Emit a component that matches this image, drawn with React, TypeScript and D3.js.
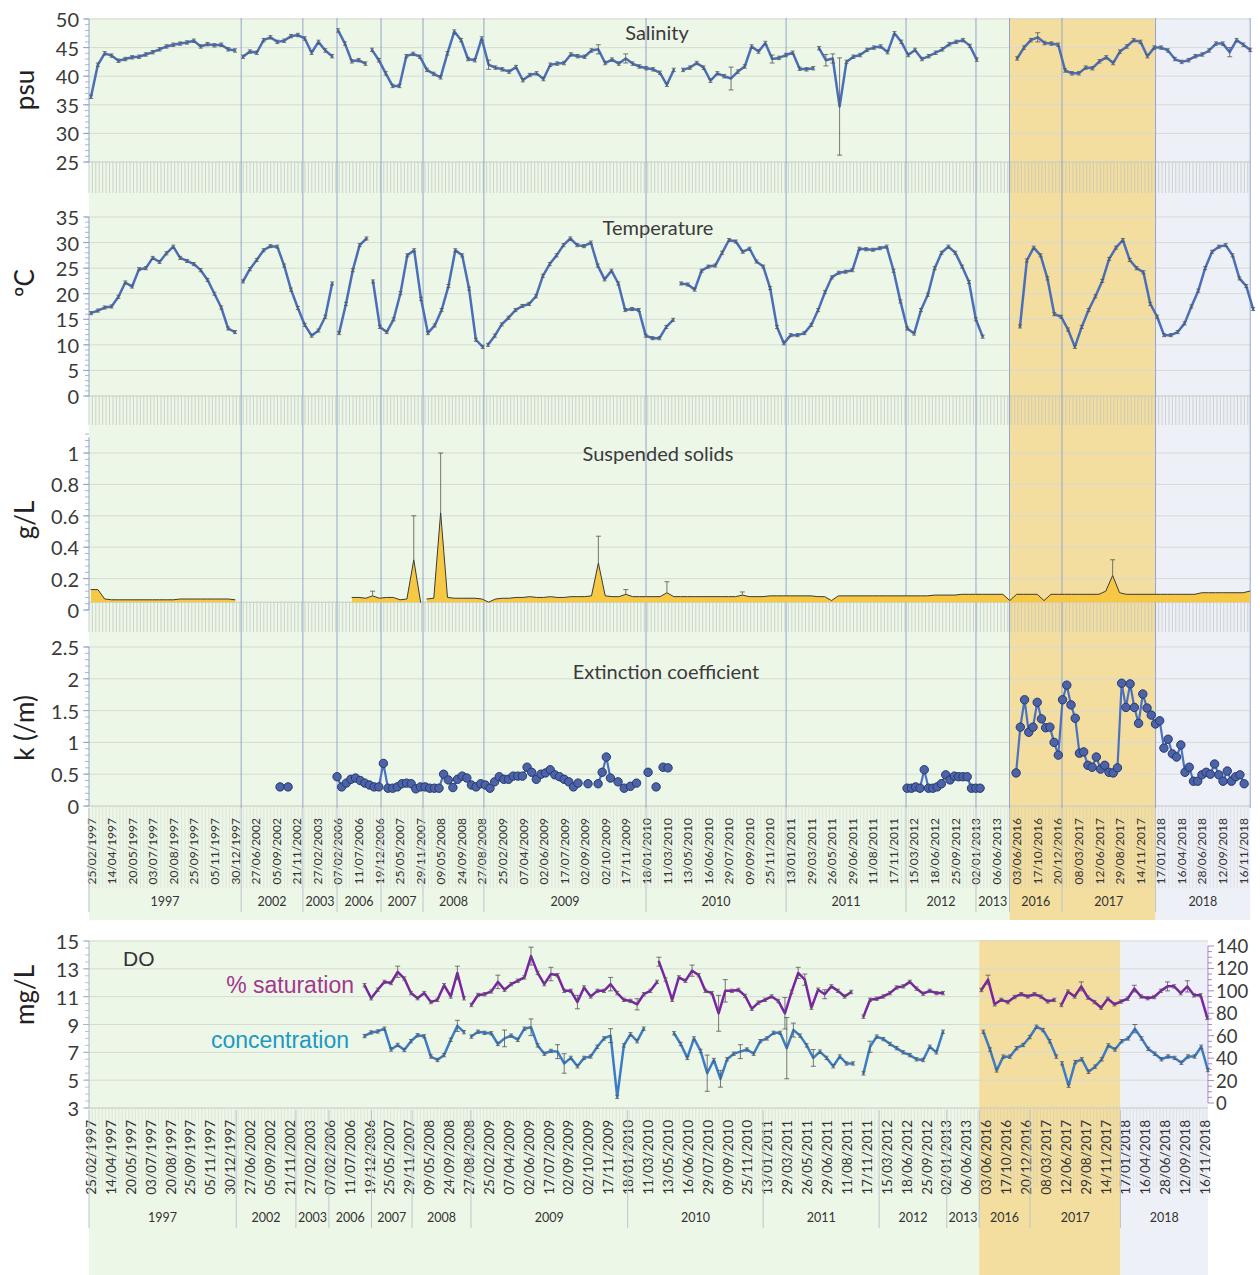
import { useEffect, useRef } from 'react';
import * as d3 from 'd3';

type Segment = { start: number; step: number; values: number[] };
type ErrorBar = [number, number, number]; // segment index, point index, error size
type Pt = { p: number; v: number };

// ---------- categories (x positions are in "date label" units) ----------
const dateLabels = [
  '25/02/1997', '14/04/1997', '20/05/1997', '03/07/1997', '20/08/1997', '25/09/1997', '05/11/1997', '30/12/1997',
  '27/06/2002', '05/09/2002', '21/11/2002', '27/02/2003', '07/02/2006', '11/07/2006', '19/12/2006', '25/05/2007',
  '29/11/2007', '09/05/2008', '24/09/2008', '27/08/2008', '25/02/2009', '07/04/2009', '02/06/2009', '17/07/2009',
  '02/09/2009', '02/10/2009', '17/11/2009', '18/01/2010', '11/03/2010', '13/05/2010', '16/06/2010', '29/07/2010',
  '09/09/2010', '25/11/2010', '13/01/2011', '29/03/2011', '26/05/2011', '29/06/2011', '11/08/2011', '17/11/2011',
  '15/03/2012', '18/06/2012', '25/09/2012', '02/01/2013', '06/06/2013', '03/06/2016', '17/10/2016', '20/12/2016',
  '08/03/2017', '12/06/2017', '29/08/2017', '14/11/2017', '17/01/2018', '16/04/2018', '28/06/2018', '12/09/2018',
  '16/11/2018',
];
const years = ['1997', '2002', '2003', '2006', '2007', '2008', '2009', '2010', '2011', '2012', '2013', '2016', '2017', '2018'];
// where each year group begins
const yearBreaks = [-0.1, 7.3, 10.3, 11.96, 14.1, 16.14, 19.1, 26.98, 33.79, 39.62, 43.02, 44.65, 47.2, 51.75];

const T = 1 / 3;

// ---------- salinity (psu) ----------
const salinity: Segment[] = [
  { start: 0, step: T, values: [36.4, 42, 44, 43.6, 42.7, 43, 43.3, 43.4, 43.8, 44.2, 44.7, 45.2, 45.5, 45.7, 45.9, 46.2, 45.2, 45.6, 45.4, 45.5, 44.7, 44.5] },
  { start: 7.39, step: T, values: [43.4, 44.3, 44.1, 46.3, 46.8, 46, 46.2, 47, 47.2, 46.6, 44.1, 46, 44.5, 43.5] },
  { start: 12.01, step: T, values: [48, 45.7, 42.6, 42.8, 42.2] },
  { start: 13.66, step: T, values: [
    44.6, 42.8, 40.5, 38.3, 38.3, 43.5, 43.9, 43.4, 41.1, 40.4,
    39.8, 44, 47.8, 46.3, 43, 42.8, 46.6, 42, 41.5, 41.2,
    40.8, 41.6, 39.3, 40.2, 40.5, 39.5, 42, 42.2, 42.3, 43.8,
    43.5, 43.4, 44.5, 44.7, 42.3, 42.9, 42.2, 43.1, 42.2, 41.7,
    41.4, 41.2, 40.6, 38.5, 41.1] },
  { start: 28.78, step: T, values: [41.1, 41.5, 42.3, 41.5, 39.2, 40.5, 40, 39.6, 40.8, 41.7, 45.2, 44.3, 45.8, 43, 43.2, 43.7, 44.1, 41.3, 41.2, 41.4] },
  { start: 35.39, step: T, values: [44.9, 42.8, 43.1, 34.7, 42.5, 43.4, 43.7, 44.6, 45, 45.2, 44.2, 47.5, 46, 43.7, 44.6, 43, 43.5, 44.1, 44.7, 45.6, 46, 46.3, 45.3, 42.9] },
  { start: 45.02, step: T, values: [
    43.1, 45, 46.3, 46.8, 45.8, 45.7, 45.5, 41, 40.5, 40.5,
    41.5, 41.4, 42.6, 43.3, 42.3, 44.3, 45.2, 46.3, 46, 43.5,
    45, 45, 44.5, 43, 42.5, 42.8, 43.5, 43.8, 44.5, 45.7,
    45.7, 44.2, 46.3, 45.5, 44.6] },
];
const salinityErrors: ErrorBar[] = [[4, 7, 2], [3, 17, 0.8], [3, 33, 0.8], [3, 37, 0.8], [5, 3, 8.5], [5, 2, 0.8], [6, 3, 0.8], [6, 31, 0.8], [4, 13, 0.7], [5, 1, 1]];

// ---------- temperature (ºC) ----------
const temperature: Segment[] = [
  { start: 0, step: T, values: [16.2, 16.7, 17.3, 17.5, 19.4, 22.2, 21.4, 24.8, 25, 27, 26.2, 27.9, 29.2, 27, 26.4, 25.8, 24.6, 22.7, 20, 17.3, 13.2, 12.5] },
  { start: 7.39, step: T, values: [22.4, 24.8, 26.6, 28.5, 29.3, 29.2, 25.5, 20.8, 17.2, 13.9, 11.8, 12.8, 15.5, 22] },
  { start: 12.06, step: T, values: [12.3, 18, 24.6, 29.5, 30.8] },
  { start: 13.71, step: T, values: [22.4, 13.5, 12.5, 15, 20.1, 27.5, 28.5, 19, 12.3, 13.8, 16.8, 21.5, 28.5, 27.5, 21, 11, 9.6] },
  { start: 19.3, step: T, values: [
    10, 11.8, 14, 15.3, 16.8, 17.6, 18, 19.5, 23.5, 25.8,
    27.5, 29.5, 30.8, 29.5, 29.3, 30, 25.5, 22.8, 24.5, 22,
    16.8, 17, 16.8, 11.8, 11.3, 11.3, 13.5, 14.9] },
  { start: 28.68, step: T, values: [
    22, 21.8, 20.8, 24.5, 25.3, 25.5, 28, 30.5, 30.2, 28.2,
    28.8, 26.3, 25.3, 21.1, 13.5, 10.3, 11.9, 11.9, 12.3, 13.9,
    16.8, 20.3, 23.2, 24.1, 24.3, 24.6, 28.8, 28.7, 28.6, 28.9,
    29.2, 24.5, 18.5, 13.2, 12.2, 16.8, 19.8, 25, 28, 29.2,
    28, 25.3, 22.3, 15, 11.6] },
  { start: 45.16, step: T, values: [
    13.6, 26.5, 29, 27.5, 23, 16, 15.5, 13, 9.6, 13.5,
    16.8, 19.5, 22.5, 26.8, 29, 30.5, 26.6, 25, 24.2, 18,
    15.5, 11.9, 11.9, 12.5, 14.2, 17.5, 20.6, 25, 28.2, 29.2,
    29.5, 27.5, 23, 21.5, 17] },
];

// ---------- suspended solids (g/L) ----------
const solids: Segment[] = [
  { start: 0, step: T, values: [0.13, 0.13, 0.07, 0.065, 0.065, 0.065, 0.065, 0.065, 0.065, 0.065, 0.065, 0.065, 0.065, 0.07, 0.07, 0.07, 0.07, 0.07, 0.07, 0.07, 0.07, 0.065] },
  { start: 12.69, step: T, values: [0.08, 0.08, 0.075, 0.09, 0.075, 0.08, 0.08, 0.065, 0.07, 0.32, 0.05] },
  { start: 16.33, step: T, values: [
    0.07, 0.075, 0.62, 0.08, 0.075, 0.075, 0.075, 0.075, 0.07, 0.05,
    0.07, 0.075, 0.075, 0.08, 0.08, 0.085, 0.08, 0.08, 0.085, 0.08,
    0.08, 0.085, 0.085, 0.085, 0.09, 0.3, 0.09, 0.085, 0.085, 0.1,
    0.085, 0.085, 0.085, 0.085, 0.085, 0.11, 0.085, 0.085, 0.085, 0.085,
    0.085, 0.085, 0.085, 0.085, 0.085, 0.085, 0.095, 0.085, 0.085, 0.085,
    0.09, 0.09, 0.09, 0.09, 0.09, 0.09, 0.09, 0.085, 0.085, 0.06,
    0.09, 0.09, 0.09, 0.09, 0.09, 0.09, 0.09, 0.09, 0.09, 0.09,
    0.09, 0.09, 0.09, 0.09, 0.095, 0.095, 0.095, 0.095, 0.1, 0.1,
    0.1, 0.1, 0.1, 0.1, 0.1, 0.06, 0.1, 0.1, 0.1, 0.1,
    0.06, 0.1, 0.1, 0.1, 0.1, 0.1, 0.1, 0.1, 0.1, 0.12,
    0.22, 0.11, 0.1, 0.1, 0.1, 0.1, 0.1, 0.1, 0.1, 0.1,
    0.1, 0.1, 0.1, 0.11, 0.11, 0.11, 0.11, 0.11, 0.11, 0.11, 0.12] },
];
const solidsErrors: ErrorBar[] = [[1, 3, 0.03], [1, 9, 0.28], [2, 2, 0.38], [2, 25, 0.17], [2, 29, 0.03], [2, 35, 0.07], [2, 46, 0.02], [2, 100, 0.1]];
const solidsAxisCross = 0.05;

// ---------- extinction coefficient (/m) ----------
const extinction: Segment[] = [
  { start: 9.19, step: 0.39, values: [0.3, 0.3] },
  { start: 11.96, step: 0.2253, values: [
    0.46, 0.3, 0.36, 0.42, 0.44, 0.4, 0.36, 0.33, 0.3, 0.3,
    0.67, 0.28, 0.28, 0.3, 0.35, 0.36, 0.35, 0.27, 0.3, 0.3,
    0.28, 0.28, 0.28, 0.5, 0.41, 0.29, 0.42, 0.47, 0.44, 0.33,
    0.3, 0.35, 0.33, 0.28, 0.38, 0.46, 0.42, 0.42, 0.47, 0.47,
    0.47, 0.61, 0.53, 0.42, 0.5, 0.52, 0.57, 0.49, 0.46, 0.42,
    0.38, 0.3, 0.36] },
  { start: 24.16, step: 0.2, values: [0.35] },
  { start: 24.65, step: 0.2, values: [0.35, 0.53, 0.77, 0.44] },
  { start: 25.62, step: 0.3, values: [0.38, 0.28, 0.31, 0.36] },
  { start: 27.08, step: 0.2, values: [0.53] },
  { start: 27.47, step: 0.2, values: [0.3] },
  { start: 27.81, step: 0.24, values: [0.61, 0.6] },
  { start: 39.67, step: 0.2088, values: [0.28, 0.28, 0.3, 0.28, 0.57, 0.28, 0.28, 0.3, 0.35, 0.49, 0.41, 0.47, 0.46, 0.46, 0.46, 0.28, 0.28, 0.28] },
  { start: 44.97, step: 0.2053, values: [
    0.52, 1.24, 1.67, 1.16, 1.24, 1.63, 1.37, 1.23, 1.24, 1.0,
    0.8, 1.67, 1.9, 1.59, 1.38, 0.83, 0.85, 0.64, 0.61, 0.77,
    0.58, 0.64, 0.53, 0.52, 0.6, 1.93, 1.55, 1.92, 1.55, 1.3,
    1.76, 1.54, 1.43, 1.29, 1.34, 0.91, 1.05, 0.82, 0.77, 0.96,
    0.53, 0.61, 0.39, 0.39, 0.49, 0.53, 0.5, 0.66, 0.49, 0.39,
    0.55, 0.39, 0.46, 0.49, 0.35] },
];

// ---------- dissolved oxygen ----------
const doSaturation: Segment[] = [
  { start: 13.75, step: T, values: [105, 93.4, 101, 108, 107, 117, 111, 98, 93.5, 98, 90, 92, 105, 95, 116, 93.4] },
  { start: 19.12, step: T, values: [
    87.4, 96.3, 97, 99.5, 108, 101, 106, 109, 112, 131,
    116, 106, 115, 114, 100, 100, 90, 103, 95, 100,
    100, 106, 98, 92, 91, 88, 97, 100, 108] },
  { start: 28.55, step: T, values: [
    126, 110, 92, 112, 109, 118, 114, 100, 98, 80,
    100, 100, 100.8, 95.5, 84, 89.5, 92, 95, 91, 80,
    99, 116, 110, 85, 101, 97, 104, 100, 95, 99] },
  { start: 38.83, step: T, values: [77, 92, 93, 95, 98, 103, 104, 108, 102, 97.5, 100, 98, 98] },
  { start: 44.76, step: T, values: [100.8, 110, 88, 92, 90, 94.5, 97, 95, 97, 94.8, 90.6, 91.9] },
  { start: 48.78, step: T, values: [
    87.4, 99.3, 95, 104, 94, 90, 85, 93, 88, 90.5,
    93, 102, 95, 93.5, 94.5, 100, 104, 104, 98, 104,
    96, 96, 76] },
];
const doConcentration: Segment[] = [
  { start: 13.75, step: T, values: [8.17, 8.43, 8.5, 8.7, 7.2, 7.53, 7.17, 7.8, 8.23, 8.15, 6.7, 6.45, 6.8, 7.9, 8.9, 8.45] },
  { start: 19.12, step: T, values: [
    8.13, 8.48, 8.4, 8.37, 7.6, 8.0, 8.2, 7.9, 8.7, 8.8,
    7.5, 6.9, 7.1, 7.05, 6.2, 6.6, 6.0, 6.6, 6.7, 7.4,
    8.0, 8.2, 3.8, 7.5, 8.3, 7.8, 8.7] },
  { start: 29.31, step: T, values: [
    8.37, 7.6, 6.6, 8.0, 7.1, 5.5, 6.45, 5.1, 6.5, 6.9,
    7.05, 7.2, 6.9, 7.8, 8.0, 8.4, 8.4, 7.3, 8.6, 8.2,
    7.5, 6.6, 7.05, 6.6, 6.0, 6.7, 6.2, 6.2] },
  { start: 38.83, step: T, values: [5.49, 7.4, 8.13, 7.95, 7.6, 7.3, 7.0, 6.8, 6.5, 6.45, 7.4, 7.0, 8.48] },
  { start: 44.86, step: T, values: [8.48, 7.2, 5.7, 6.69, 6.69, 7.3, 7.53, 8.1, 8.84, 8.6, 7.8, 6.69] },
  { start: 48.81, step: T, values: [
    6.21, 4.6, 6.3, 6.5, 5.6, 5.97, 6.5, 7.5, 7.2, 7.8,
    8.0, 8.7, 8.0, 7.25, 6.9, 6.5, 6.7, 6.6, 6.25, 6.7,
    6.7, 7.4, 5.73] },
];
const saturationErrors: ErrorBar[] = [[0, 5, 5], [0, 14, 6], [1, 4, 6], [1, 9, 8], [1, 12, 6], [1, 16, 6], [1, 21, 6], [1, 25, 5], [2, 0, 4], [2, 5, 5], [2, 9, 16], [2, 10, 10], [2, 19, 14], [2, 21, 5], [2, 22, 5], [2, 25, 4], [4, 1, 4], [5, 3, 4], [5, 11, 3], [5, 16, 4], [5, 19, 5]];
const concentrationErrors: ErrorBar[] = [[0, 14, 0.4], [1, 5, 0.6], [1, 9, 0.6], [1, 13, 0.5], [1, 14, 0.7], [1, 21, 0.5], [2, 5, 1.3], [2, 7, 0.6], [2, 10, 0.5], [2, 17, 2.2], [2, 18, 0.5], [2, 21, 0.6], [3, 1, 0.4], [5, 11, 0.3]];

// ---------- styling ----------
const GREEN = '#edf7e8';
const TAN = '#f3dd9f';
const LAVENDER = '#eef0f8';
const BLUE_LINE = '#4a6fb8';
const SAT_COLOR = '#7b22a6';
const CONC_COLOR = '#3b7cc4';
const FONT = 'Lato, "Open Sans", sans-serif';
const NARROW = '"Liberation Sans Narrow", "Liberation Sans", Arial, sans-serif';

const toPoints = (s: Segment): Pt[] => s.values.map((v, i) => ({ p: s.start + i * s.step, v }));

export default function App() {
  const svgRef = useRef<SVGSVGElement>(null);

  useEffect(() => {
    if (!svgRef.current) return;
    const svg = d3.select(svgRef.current);
    svg.selectAll('*').remove();

    const tanA = yearBreaks[years.indexOf('2016')];
    const tanB = yearBreaks[years.indexOf('2018')];

    const bands = (xs: d3.ScaleLinear<number, number>, a: number, b: number, top: number, bottom: number) => {
      [[a, tanA, GREEN], [tanA, tanB, TAN], [tanB, b, LAVENDER]].forEach(([p0, p1, c]) => {
        svg.append('rect')
          .attr('x', xs(p0 as number)).attr('y', top)
          .attr('width', xs(p1 as number) - xs(p0 as number)).attr('height', bottom - top)
          .attr('fill', c as string);
      });
    };

    const hatch = (xs: d3.ScaleLinear<number, number>, a: number, b: number, y0: number, len: number, op: number) => {
      svg.append('g').selectAll('line').data(d3.range(a, b, 1 / 6)).enter().append('line')
        .attr('x1', (d) => xs(d)).attr('x2', (d) => xs(d))
        .attr('y1', y0).attr('y2', y0 + len)
        .attr('stroke', '#bfc4bf').attr('stroke-width', 0.7).attr('opacity', op);
    };

    const leftAxis = (yS: d3.ScaleLinear<number, number>, major: number[], minorStep: number, lo: number, hi: number, axX: number, labelX: number, fs: number, color: string) => {
      const g = svg.append('g');
      g.append('line').attr('x1', axX).attr('x2', axX).attr('y1', yS(hi)).attr('y2', yS(lo)).attr('stroke', color).attr('stroke-width', 1);
      d3.range(lo, hi + minorStep / 2, minorStep).forEach((v) => {
        g.append('line').attr('x1', axX - 4).attr('x2', axX).attr('y1', yS(v)).attr('y2', yS(v)).attr('stroke', color).attr('stroke-width', 0.8);
      });
      major.forEach((v) => {
        g.append('line').attr('x1', axX - 6).attr('x2', axX).attr('y1', yS(v)).attr('y2', yS(v)).attr('stroke', color).attr('stroke-width', 1);
        g.append('text').attr('x', labelX).attr('y', yS(v)).attr('text-anchor', 'end').attr('dominant-baseline', 'central')
          .attr('font-family', FONT).attr('font-size', fs).attr('fill', '#3a3a3a').text(String(v));
      });
    };

    const unitLabel = (text: string, cy: number) => {
      svg.append('text').attr('transform', `translate(24,${cy}) rotate(-90)`)
        .attr('text-anchor', 'middle').attr('dominant-baseline', 'central')
        .attr('font-family', FONT).attr('font-size', 26).attr('fill', '#222').text(text);
    };

    const drawLines = (xs: d3.ScaleLinear<number, number>, yS: d3.ScaleLinear<number, number>, segs: Segment[], color: string, w: number) => {
      const line = d3.line<Pt>().x((d) => xs(d.p)).y((d) => yS(d.v));
      segs.forEach((s) => {
        svg.append('path').attr('d', line(toPoints(s))).attr('fill', 'none')
          .attr('stroke', color).attr('stroke-width', w).attr('stroke-linejoin', 'round').attr('stroke-linecap', 'round');
      });
    };

    const drawErrors = (xs: d3.ScaleLinear<number, number>, yS: d3.ScaleLinear<number, number>, segs: Segment[], errs: ErrorBar[], def: number, upOnly = false) => {
      const big = new Map(errs.map(([s, k, e]) => [`${s}-${k}`, e]));
      const g = svg.append('g').attr('stroke', '#555').attr('stroke-width', 0.8);
      segs.forEach((s, si) => toPoints(s).forEach((d, k) => {
        const e = big.get(`${si}-${k}`) ?? def;
        if (!e) return;
        const cx = xs(d.p);
        const yT = yS(d.v + e);
        const yB = upOnly ? yS(d.v) : yS(d.v - e);
        const cw = big.has(`${si}-${k}`) ? 2.5 : 2;
        g.append('line').attr('x1', cx).attr('x2', cx).attr('y1', yT).attr('y2', yB);
        g.append('line').attr('x1', cx - cw).attr('x2', cx + cw).attr('y1', yT).attr('y2', yT);
        if (!upOnly) g.append('line').attr('x1', cx - cw).attr('x2', cx + cw).attr('y1', yB).attr('y2', yB);
      }));
    };

    const dateAxis = (xs: d3.ScaleLinear<number, number>, topY: number, fs: number, yearY: number, sepTop: number, sepBottom: number, end: number) => {
      dateLabels.forEach((d, i) => {
        svg.append('text').attr('transform', `translate(${xs(i)},${topY}) rotate(-90)`)
          .attr('text-anchor', 'end').attr('dominant-baseline', 'central')
          .attr('font-family', FONT).attr('font-size', fs).attr('fill', '#333').text(d);
      });
      years.forEach((yr, i) => {
        const a = yearBreaks[i];
        const b = i + 1 < yearBreaks.length ? yearBreaks[i + 1] : end;
        svg.append('text').attr('x', xs((a + b) / 2)).attr('y', yearY).attr('text-anchor', 'middle')
          .attr('font-family', FONT).attr('font-size', 12.5).attr('fill', '#333').text(yr);
        svg.append('line').attr('x1', xs(a)).attr('x2', xs(a)).attr('y1', sepTop).attr('y2', sepBottom)
          .attr('stroke', '#bcc5cc').attr('stroke-width', 1);
      });
    };

    // ======================= upper figure =======================
    const x = d3.scaleLinear().domain([0, 56]).range([91, 1243]);
    const xa = -0.1;
    const xb = 56.35;
    bands(x, xa, xb, 18, 920);

    const panels = [
      { title: 'Salinity', tx: 657, ty: 40, unit: 'psu', uy: 90, y: d3.scaleLinear().domain([25, 50]).range([162, 19]), major: [25, 30, 35, 40, 45, 50], minor: 1, lo: 25, hi: 50, cross: 25, hl: 31 },
      { title: 'Temperature', tx: 658, ty: 235, unit: 'ºC', uy: 283, y: d3.scaleLinear().domain([0, 35]).range([396, 217]), major: [0, 5, 10, 15, 20, 25, 30, 35], minor: 1, lo: 0, hi: 35, cross: 0, hl: 29 },
      { title: 'Suspended solids', tx: 658, ty: 461, unit: 'g/L', uy: 520, y: d3.scaleLinear().domain([0, 1]).range([610, 453]), major: [0, 0.2, 0.4, 0.6, 0.8, 1], minor: 0.04, lo: 0, hi: 1.1, cross: solidsAxisCross, hl: 30 },
      { title: 'Extinction coefficient', tx: 666, ty: 679, unit: 'k (/m)', uy: 728, y: d3.scaleLinear().domain([0, 2.5]).range([806, 647]), major: [0, 0.5, 1, 1.5, 2, 2.5], minor: 0.1, lo: 0, hi: 2.5, cross: 0, hl: 82 },
    ];

    panels.forEach((pn) => {
      pn.major.filter((v) => v > pn.cross).forEach((v) => {
        svg.append('line').attr('x1', x(xa)).attr('x2', x(xb)).attr('y1', pn.y(v)).attr('y2', pn.y(v))
          .attr('stroke', '#d5dbd3').attr('stroke-width', 1);
      });
      hatch(x, xa, xb, pn.y(pn.cross), pn.hl, pn.hl > 40 ? 0.45 : 1);
      svg.append('line').attr('x1', x(xa)).attr('x2', x(xb)).attr('y1', pn.y(pn.cross)).attr('y2', pn.y(pn.cross))
        .attr('stroke', '#c4c9c4').attr('stroke-width', 1);
    });

    // year separators through the plot
    [...yearBreaks.slice(1), xb].forEach((b) => {
      svg.append('line').attr('x1', x(b)).attr('x2', x(b)).attr('y1', 18).attr('y2', 808)
        .attr('stroke', '#94a5cc').attr('stroke-width', 1);
    });

    panels.forEach((pn) => {
      leftAxis(pn.y, pn.major, pn.minor, pn.lo, pn.hi, 89, 79, 20, '#8fa3cf');
      unitLabel(pn.unit, pn.uy);
    });

    const [pSal, pTemp, pSS, pExt] = panels;

    // salinity
    drawLines(x, pSal.y, salinity, BLUE_LINE, 2.5);
    drawErrors(x, pSal.y, salinity, salinityErrors, 0.3);

    // temperature
    drawLines(x, pTemp.y, temperature, BLUE_LINE, 2.5);
    drawErrors(x, pTemp.y, temperature, [], 0.3);

    // suspended solids
    const area = d3.area<Pt>().x((d) => x(d.p)).y0(pSS.y(solidsAxisCross)).y1((d) => pSS.y(d.v));
    solids.forEach((s) => {
      svg.append('path').attr('d', area(toPoints(s))).attr('fill', '#f7c844').attr('stroke', 'none');
    });
    drawLines(x, pSS.y, solids, '#3a3a3a', 1);
    drawErrors(x, pSS.y, solids, solidsErrors, 0, true);

    // extinction coefficient
    drawLines(x, pExt.y, extinction, '#4a72c0', 2.2);
    extinction.forEach((s) => {
      svg.append('g').selectAll('circle').data(toPoints(s)).enter().append('circle')
        .attr('cx', (d) => x(d.p)).attr('cy', (d) => pExt.y(d.v)).attr('r', 4.2)
        .attr('fill', '#4d63a8').attr('stroke', '#26386f').attr('stroke-width', 1);
    });

    panels.forEach((pn) => {
      svg.append('text').attr('x', pn.tx).attr('y', pn.ty).attr('text-anchor', 'middle')
        .attr('font-family', FONT).attr('font-size', 20).attr('fill', '#3a3a3a').text(pn.title);
    });

    dateAxis(x, 818, 12, 906, 808, 912, xb);

    // ======================= DO figure =======================
    const xd = d3.scaleLinear().domain([0, 56]).range([91, 1205]);
    const xda = -0.1;
    const xdb = 56.15;
    bands(xd, xda, xdb, 940, 1275);

    const yMg = d3.scaleLinear().domain([3, 15]).range([1108, 941]);
    const yPct = d3.scaleLinear().domain([0, 140]).range([1103, 946]);

    [5, 7, 9, 11, 13, 15].forEach((v) => {
      svg.append('line').attr('x1', xd(xda)).attr('x2', xd(xdb)).attr('y1', yMg(v)).attr('y2', yMg(v))
        .attr('stroke', '#d5dbd3').attr('stroke-width', 1);
    });
    hatch(xd, xda, xdb, yMg(3), 80, 0.45);
    svg.append('line').attr('x1', xd(xda)).attr('x2', xd(xdb)).attr('y1', yMg(3)).attr('y2', yMg(3))
      .attr('stroke', '#c4c9c4').attr('stroke-width', 1);

    leftAxis(yMg, [3, 5, 7, 9, 11, 13, 15], 0.5, 3, 15, 89, 79, 20, '#a9b3c9');
    unitLabel('mg/L', 995);

    // right axis (% saturation)
    const rx = xd(xdb);
    const rg = svg.append('g');
    rg.append('line').attr('x1', rx).attr('x2', rx).attr('y1', yPct(140)).attr('y2', yPct(0)).attr('stroke', '#a58cc9');
    d3.range(0, 141, 5).forEach((v) => {
      rg.append('line').attr('x1', rx).attr('x2', rx + (v % 20 === 0 ? 6 : 4)).attr('y1', yPct(v)).attr('y2', yPct(v))
        .attr('stroke', '#9a78c8').attr('stroke-width', 0.9);
    });
    [0, 20, 40, 60, 80, 100, 120, 140].forEach((v) => {
      rg.append('text').attr('x', rx + 8).attr('y', yPct(v)).attr('dominant-baseline', 'central')
        .attr('font-family', FONT).attr('font-size', 18.5).attr('fill', '#3a3a3a').text(String(v));
    });

    drawLines(xd, yPct, doSaturation, SAT_COLOR, 2.5);
    drawErrors(xd, yPct, doSaturation, saturationErrors, 1.5);
    drawLines(xd, yMg, doConcentration, CONC_COLOR, 2.5);
    drawErrors(xd, yMg, doConcentration, concentrationErrors, 0.12);

    svg.append('text').attr('x', 123).attr('y', 958).attr('dominant-baseline', 'central')
      .attr('font-family', NARROW).attr('font-size', 21).attr('fill', '#333').text('DO');
    svg.append('text').attr('x', 354).attr('y', 985).attr('text-anchor', 'end').attr('dominant-baseline', 'central')
      .attr('font-family', NARROW).attr('font-size', 23).attr('fill', '#a2378e').text('% saturation');
    svg.append('text').attr('x', 349).attr('y', 1040).attr('text-anchor', 'end').attr('dominant-baseline', 'central')
      .attr('font-family', NARROW).attr('font-size', 23).attr('fill', '#2198c4').text('concentration');

    dateAxis(xd, 1120, 13.5, 1222, 1110, 1228, xdb);
  }, []);

  return (
    <svg
      ref={svgRef}
      width={1260}
      height={1275}
      style={{ position: 'absolute', left: 0, top: 0, background: '#ffffff' }}
    />
  );
}
